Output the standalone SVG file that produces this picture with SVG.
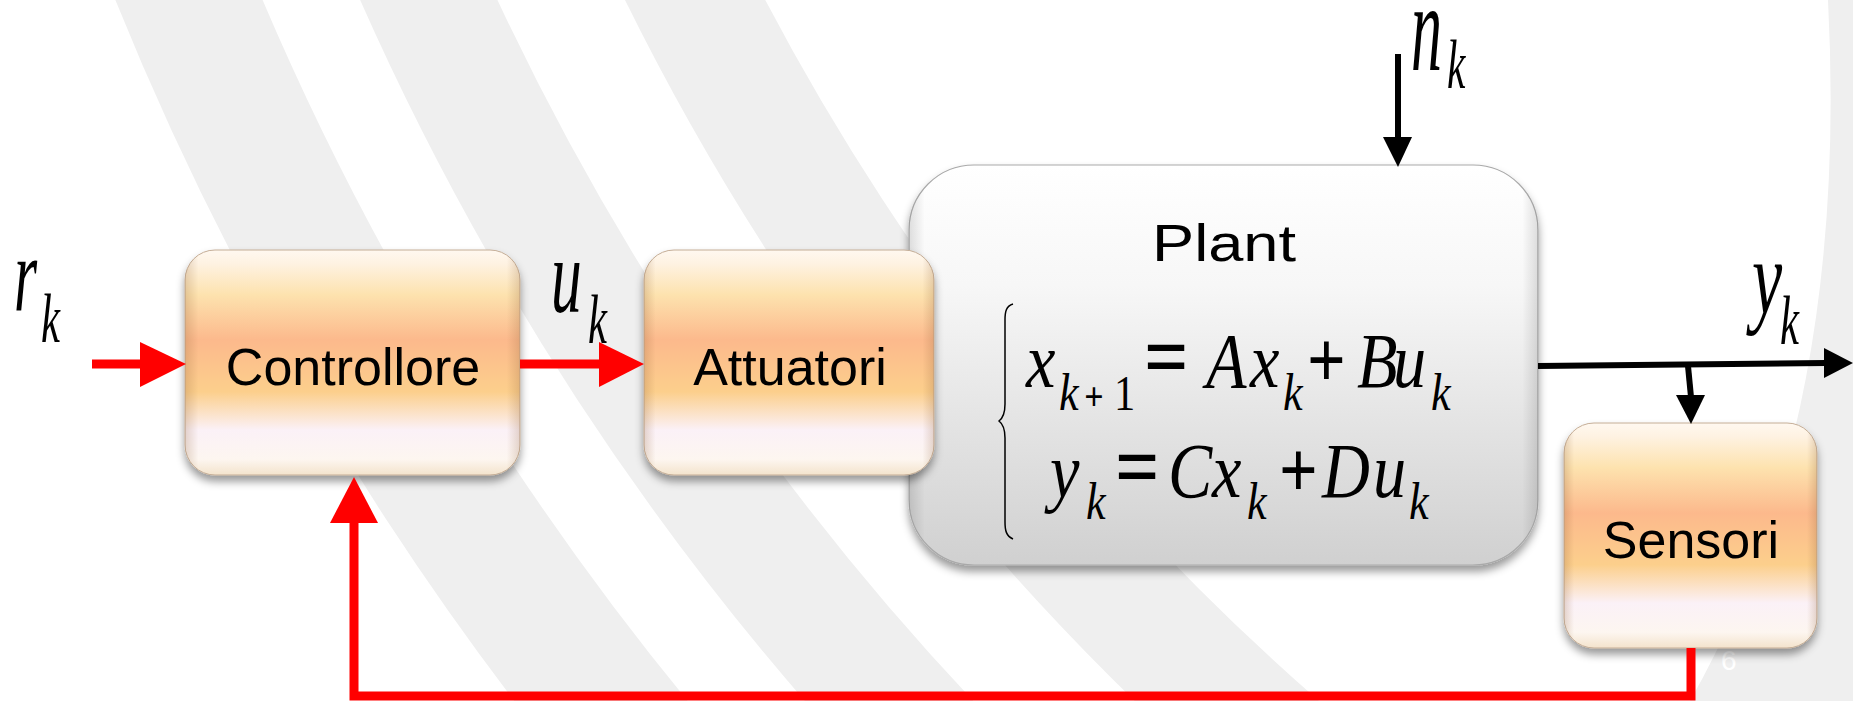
<svg xmlns="http://www.w3.org/2000/svg" width="1853" height="701" viewBox="0 0 1853 701">
<style>
.bg { fill: none; stroke: #efefef; }
.box-o { fill: url(#gOrange); stroke: #c4ad96; stroke-width: 1; }
.side { fill: url(#gSide); }
.box-p { fill: url(#gPlant); stroke: #a9a9a9; stroke-width: 1.2; }
.t { font-family: "Liberation Sans", Arial, sans-serif; font-size: 52px; fill: #000; text-anchor: middle; }
.m { font-family: "Liberation Serif", "Times New Roman", serif; font-style: italic; fill: #000; }
.op { font-family: "Liberation Serif", "Times New Roman", serif; font-weight: bold; fill: #000; }
.red { stroke: #ff0000; stroke-width: 9; fill: none; }
.redh { fill: #ff0000; }
.blk { stroke: #000; stroke-width: 6; fill: none; }
.blkh { fill: #000; }
</style>
<defs>
<linearGradient id="gOrange" x1="0" y1="0" x2="0" y2="1">
<stop offset="0" stop-color="#fff8f0"/>
<stop offset="0.06" stop-color="#fef2e2"/>
<stop offset="0.2" stop-color="#fde2ae"/>
<stop offset="0.4" stop-color="#fcb98c"/>
<stop offset="0.63" stop-color="#fccf8c"/>
<stop offset="0.8" stop-color="#fbf1f7"/>
<stop offset="0.93" stop-color="#fdf6f0"/>
<stop offset="1" stop-color="#f3e3cc"/>
</linearGradient>
<linearGradient id="gSide" x1="0" y1="0" x2="1" y2="0">
<stop offset="0" stop-color="#8a5a30" stop-opacity="0.22"/>
<stop offset="0.04" stop-color="#8a5a30" stop-opacity="0"/>
<stop offset="0.96" stop-color="#8a5a30" stop-opacity="0"/>
<stop offset="1" stop-color="#8a5a30" stop-opacity="0.22"/>
</linearGradient>
<linearGradient id="gPlant" x1="0" y1="0" x2="0" y2="1">
<stop offset="0" stop-color="#ffffff"/>
<stop offset="0.3" stop-color="#f7f7f7"/>
<stop offset="1" stop-color="#d0d0d0"/>
</linearGradient>
<linearGradient id="gSideP" x1="0" y1="0" x2="1" y2="0">
<stop offset="0" stop-color="#000" stop-opacity="0.12"/>
<stop offset="0.025" stop-color="#000" stop-opacity="0"/>
<stop offset="0.975" stop-color="#000" stop-opacity="0"/>
<stop offset="1" stop-color="#000" stop-opacity="0.12"/>
</linearGradient>
<filter id="sh" x="-10%" y="-10%" width="120%" height="130%">
<feDropShadow dx="0" dy="6" stdDeviation="4" flood-color="#000" flood-opacity="0.4"/>
</filter>
</defs>

<g id="background">
<rect x="0" y="0" width="1853" height="701" fill="#ffffff"/>
<circle class="bg" cx="2916" cy="-1130" r="2952" stroke-width="136"/>
<circle class="bg" cx="2916" cy="-1130" r="2732" stroke-width="125"/>
<circle class="bg" cx="2916" cy="-1130" r="2492" stroke-width="125"/>
<path d="M1828,0 Q1850,420 1690,701 L1853,701 L1853,0 Z" fill="#efefef"/>
<text x="1721" y="670" font-family="Liberation Sans, Arial, sans-serif" font-size="28" fill="#ffffff">6</text>
</g>

<g id="plant">
<g filter="url(#sh)">
<rect class="box-p" x="909" y="165" width="629" height="400" rx="65" ry="65"/>
</g>
<rect x="909" y="165" width="629" height="400" rx="65" ry="65" fill="url(#gSideP)"/>
<text class="t" x="1224" y="261" font-size="64" textLength="144" lengthAdjust="spacingAndGlyphs">Plant</text>
<path d="M1013,304 C1006,306 1005,312 1005,320 L1005,404 C1005,413 1003,418 999,421 C1003,424 1005,429 1005,438 L1005,522 C1005,530 1006,536 1013,539" fill="none" stroke="#000" stroke-width="1.5"/>
<g transform="matrix(0.85,0,0,1,150,0)">
<text class="m" x="1030.6" y="387" font-size="78">x</text>
<text class="m" x="1069.4" y="410" font-size="52">k</text>
<text class="op" x="1099.0" y="410" font-size="40">+</text>
<text x="1134.1" y="410" font-size="50" font-family="Liberation Serif, Times New Roman, serif">1</text>
<text class="op" x="1169.4" y="387" font-size="92">=</text>
<text class="m" x="1242.4" y="387" font-size="78">A</text>
<text class="m" x="1294.1" y="387" font-size="78">x</text>
<text class="m" x="1333.0" y="410" font-size="52">k</text>
<text class="op" x="1361.2" y="387" font-size="80">+</text>
<text class="m" x="1420.0" y="387" font-size="78">B</text>
<text class="m" x="1462.4" y="387" font-size="78">u</text>
<text class="m" x="1507.1" y="410" font-size="52">k</text>

<text class="m" x="1058.8" y="497" font-size="78">y</text>
<text class="m" x="1101.2" y="519" font-size="52">k</text>
<text class="op" x="1135.3" y="497" font-size="92">=</text>
<text class="m" x="1197.6" y="497" font-size="78">C</text>
<text class="m" x="1249.4" y="497" font-size="78">x</text>
<text class="m" x="1290.6" y="519" font-size="52">k</text>
<text class="op" x="1328.2" y="497" font-size="80">+</text>
<text class="m" x="1378.8" y="497" font-size="78">D</text>
<text class="m" x="1438.8" y="497" font-size="78">u</text>
<text class="m" x="1481.2" y="519" font-size="52">k</text>
</g>
</g>

<g id="controllore">
<g filter="url(#sh)">
<rect class="box-o" x="185" y="250" width="335" height="225" rx="30" ry="30"/>
</g>
<rect class="side" x="185" y="250" width="335" height="225" rx="30" ry="30"/>
<text class="t" x="353" y="385">Controllore</text>
</g>

<g id="attuatori">
<g filter="url(#sh)">
<rect class="box-o" x="644" y="250" width="290" height="225" rx="30" ry="30"/>
</g>
<rect class="side" x="644" y="250" width="290" height="225" rx="30" ry="30"/>
<text class="t" x="790" y="385">Attuatori</text>
</g>

<g id="sensori">
<g filter="url(#sh)">
<rect class="box-o" x="1564" y="423" width="253" height="225" rx="30" ry="30"/>
</g>
<rect class="side" x="1564" y="423" width="253" height="225" rx="30" ry="30"/>
<text class="t" x="1691" y="558">Sensori</text>
</g>

<g id="connectors">
<path class="red" d="M92,364 H142"/>
<polygon class="redh" points="140,342 186,364 140,387"/>
<path class="red" d="M520,364 H601"/>
<polygon class="redh" points="599,342 644,364 599,387"/>
<path class="red" d="M1691,648 V696 H354 V521"/>
<polygon class="redh" points="330,523 354,477 378,523"/>
<path class="blk" d="M1538,366 L1826,363"/>
<polygon class="blkh" points="1824,348 1853,363 1824,378"/>
<path class="blk" d="M1688,366 L1691,397" stroke-width="5"/>
<polygon class="blkh" points="1676,395 1691,424 1705,395"/>
<path class="blk" d="M1398,54 L1398,139"/>
<polygon class="blkh" points="1383,137 1398,167 1412,137"/>
</g>

<g id="labels">
<text class="m" font-size="106" transform="translate(14,310) scale(0.56,1)">r</text>
<text class="m" font-size="69" transform="translate(41,342) scale(0.62,1)">k</text>
<text class="m" font-size="106" transform="translate(551,312) scale(0.58,1)">u</text>
<text class="m" font-size="69" transform="translate(588,343) scale(0.62,1)">k</text>
<text class="m" font-size="106" transform="translate(1752,313) scale(0.64,1)">y</text>
<text class="m" font-size="69" transform="translate(1780,344) scale(0.62,1)">k</text>
<text class="m" font-size="124" transform="translate(1411,70) scale(0.5,1)">n</text>
<text class="m" font-size="69" transform="translate(1447,88) scale(0.6,1)">k</text>
</g>
</svg>
